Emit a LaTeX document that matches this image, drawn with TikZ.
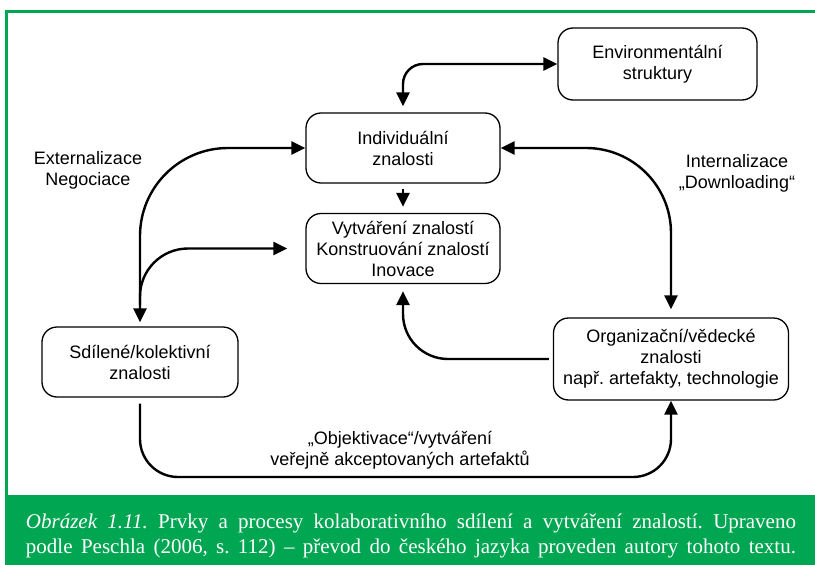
\documentclass[tikz,border=0pt]{standalone}
\usepackage{fontspec}
\setmainfont{Liberation Sans}
\newfontfamily\capfont{Liberation Serif}
\usetikzlibrary{arrows.meta}
\definecolor{framegreen}{HTML}{00A651}
\frenchspacing
\begin{document}
\begin{tikzpicture}[x=1pt,y=-1pt,
  box/.style={draw, line width=1.3pt, rounded corners=15pt, align=center,
    font=\fontsize{18}{21}\selectfont, inner sep=0pt},
  lbl/.style={align=center, font=\fontsize{18}{21}\selectfont, inner sep=0pt},
  link/.style={line width=2.4pt, -{Triangle[length=14pt,width=13pt]}},
  both/.style={line width=2.4pt,
    {Triangle[length=14pt,width=13pt]}-{Triangle[length=14pt,width=13pt]}},
  captext/.style={text=white, inner sep=0pt,
    font=\capfont\fontsize{21}{25}\selectfont}]
\useasboundingbox (0,0) rectangle (815,565);

% frame and caption band
\fill[framegreen] (5,495) rectangle (815,565);
\draw[framegreen, line width=3pt] (6.5,495) -- (6.5,11) -- (815,11);

% boxes
\node[box, minimum width=199pt, minimum height=72pt] (env) at (657.5,64)
  {Environmentální\\struktury};
\node[box, minimum width=194pt, minimum height=70pt] (ind) at (403,148)
  {Individuální\\znalosti};
\node[box, minimum width=194pt, minimum height=70pt] (vyt) at (403,248.5)
  {Vytváření znalostí\\Konstruování znalostí\\Inovace};
\node[box, minimum width=196pt, minimum height=70pt] (sdi) at (140,362)
  {Sdílené/kolektivní\\znalosti};
\node[box, minimum width=235pt, minimum height=82pt] (org) at (671,359)
  {Organizační/vědecké\\znalosti\\např. artefakty, technologie};

% process labels
\node[lbl] (ext) at (88,170) {Externalizace\\Negociace};
\node[lbl] (int) at (737,173) {Internalizace\\„Downloading“};
\node[lbl] (obj) at (400,450) {„Objektivace“/vytváření\\veřejně akceptovaných artefaktů};

% connectors
\draw[both, rounded corners=20pt, shorten >=6pt] (env.west) -| (ind.north);
\draw[both, rounded corners=88pt, shorten >=4pt] (ind.west) -| (sdi.north);
\coordinate (split) at (140,305);
\draw[link, rounded corners=48pt, shorten >=18pt] (split) |- (vyt.west);
\draw[link, shorten <=5pt, shorten >=6pt] (ind.south) -- (vyt.north);
\draw[link, rounded corners=45pt, shorten <=4pt, shorten >=7pt] (org.west) -| (vyt.south);
\draw[both, rounded corners=85pt, shorten >=8pt] (ind.east) -| (org.north);
\coordinate (low) at (400,477);
\draw[link, rounded corners=38pt, shorten <=6pt] (sdi.south) |- (low) -| (org.south);

% caption
\node[captext] (cap1) at (411,523) {\makebox[770pt][s]{\textit{Obrázek 1.11.} Prvky a procesy kolaborativního sdílení a vytváření znalostí. Upraveno}};
\node[captext] (cap2) at (411,548) {\makebox[770pt][s]{podle Peschla (2006, s. 112) – převod do českého jazyka proveden autory tohoto textu.}};
\end{tikzpicture}
\end{document}
